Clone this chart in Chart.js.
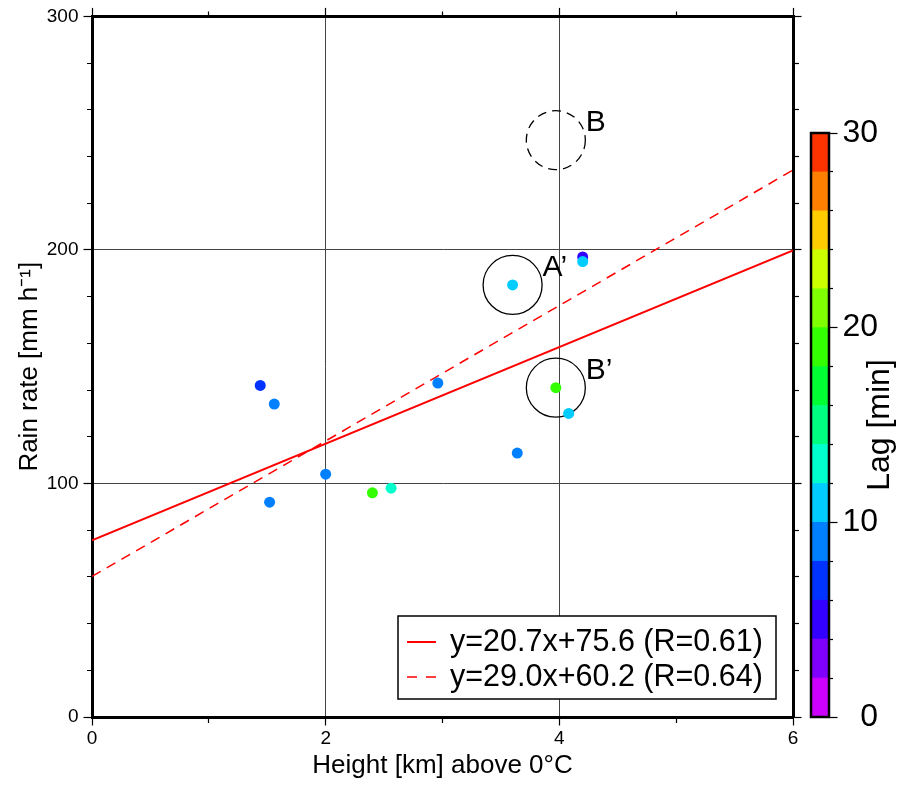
<!DOCTYPE html>
<html>
<head>
<meta charset="utf-8">
<script src="https://cdn.jsdelivr.net/npm/chart.js@4"></script>
<style>
  body { margin: 0; background: #fff; }
  #wrap { position: relative; width: 921px; height: 785px; }
  canvas { position: absolute; top: 0; }
  #main { left: 0; }
  #cbar { left: 800px; }
</style>
</head>
<body>
<div id="wrap">
  <canvas id="main" width="921" height="785"></canvas>
  <canvas id="cbar" width="121" height="785"></canvas>
</div>
<script>
// observations
const heightKm = [1.44, 1.56, 1.52, 2.00, 2.40, 2.56, 2.96, 3.64, 3.60, 3.97, 4.08, 4.20, 4.20];
const rainRate = [142, 134, 92, 104, 96, 98, 143, 113, 185, 141, 130, 197, 195];
const lagMin   = [7, 9, 9, 9, 19, 13, 9, 9, 11, 19, 11, 5, 11];

// colour palette of the lag bar, 2 min per band, from 0 to 30
const lagStep = 2;
const lagBins = ['#cc00ff', '#8000ff', '#3300ff', '#0033ff', '#0080ff', '#00ccff', '#00ffcc', '#00ff80',
                 '#00ff33', '#33ff00', '#80ff00', '#ccff00', '#ffcc00', '#ff8000', '#ff3300'];

// regression lines (end points at x = 0 and x = 6)
const fitX = [0, 6];
const fitSolidY = [75.6, 199.8];
const fitDashedY = [60.2, 234.2];
const fitLabels = ['y=20.7x+75.6 (R=0.61)', 'y=29.0x+60.2 (R=0.64)'];

// marked cases
const circleX = [3.60, 3.97];
const circleY = [185, 141];
const circleText = ['A\u2019', 'B\u2019'];
const dashedCircleX = [3.97];
const dashedCircleY = [247];
const dashedCircleText = ['B'];

const FONT = '"Liberation Sans", Arial, Helvetica, sans-serif';
Chart.defaults.font.family = FONT;
Chart.defaults.color = '#000';

function lagColor(v) {
  return lagBins[Math.min(lagBins.length - 1, Math.floor(v / lagStep))];
}
function toXY(xs, ys) {
  return xs.map((x, i) => ({ x: x, y: ys[i] }));
}

// minor ticks are drawn shorter with a dash pattern
const minorDashIn = [0, 3.5, 4, 40];
const minorDashOut = [4, 40];
function axisGrid(major, outerFirst, onChart) {
  const isMajor = c => c.tick && Math.abs(c.tick.value % major) < 1e-9;
  return {
    drawOnChartArea: onChart,
    color: c => isMajor(c) ? '#444' : 'rgba(0,0,0,0)',
    lineWidth: 1,
    tickColor: '#000',
    tickWidth: 1.2,
    tickLength: 8.5,
    tickBorderDash: c => isMajor(c) ? [] : (outerFirst ? minorDashIn : minorDashOut)
  };
}
const frameBorder = { display: true, width: 3, color: '#000' };

const annotate = {
  id: 'annotate',
  beforeDatasetDraw(chart, args) {
    if (chart.data.datasets[args.index].dashedOutline) chart.ctx.setLineDash([9, 6]);
  },
  afterDatasetDraw(chart) {
    chart.ctx.setLineDash([]);
  },
  afterDatasetsDraw(chart) {
    const ctx = chart.ctx;
    const xs = chart.scales.x, ys = chart.scales.y;
    ctx.save();
    ctx.fillStyle = '#000';
    ctx.font = '30px ' + FONT;
    ctx.textAlign = 'left';
    ctx.textBaseline = 'middle';
    const put = (xv, yv, txt) => xv.forEach((x, i) => {
      ctx.fillText(txt[i], xs.getPixelForValue(x) + 30, ys.getPixelForValue(yv[i]) - 17);
    });
    put(circleX, circleY, circleText);
    put(dashedCircleX, dashedCircleY, dashedCircleText);

    // legend box
    const a = chart.chartArea;
    const bx = a.right - 395, by = a.bottom - 101, bw = 378, bh = 83;
    ctx.fillStyle = '#fff';
    ctx.fillRect(bx, by, bw, bh);
    ctx.lineWidth = 1.5;
    ctx.strokeStyle = '#000';
    ctx.strokeRect(bx, by, bw, bh);
    const rows = [by + 26, by + 61];
    const dashes = [[], [10, 9]];
    const widths = [2, 1.5];
    ctx.font = '30.5px ' + FONT;
    fitLabels.forEach((lab, i) => {
      ctx.strokeStyle = '#ff0000';
      ctx.lineWidth = widths[i];
      ctx.setLineDash(dashes[i]);
      ctx.beginPath();
      ctx.moveTo(bx + 9, rows[i]);
      ctx.lineTo(bx + 38, rows[i]);
      ctx.stroke();
      ctx.setLineDash([]);
      ctx.fillStyle = '#000';
      ctx.fillText(lab, bx + 52, rows[i] + 1);
    });
    ctx.restore();
  }
};

new Chart(document.getElementById('main'), {
  type: 'scatter',
  data: {
    datasets: [
      {
        data: toXY(heightKm, rainRate),
        pointRadius: 5.5,
        pointBorderWidth: 0,
        pointBackgroundColor: lagMin.map(lagColor),
        order: 1
      },
      {
        data: toXY(circleX, circleY),
        pointRadius: 29.5,
        pointBorderWidth: 1.3,
        pointBorderColor: '#000',
        pointBackgroundColor: 'rgba(0,0,0,0)',
        order: 2
      },
      {
        data: toXY(dashedCircleX, dashedCircleY),
        dashedOutline: true,
        pointRadius: 29.5,
        pointBorderWidth: 1.3,
        pointBorderColor: '#000',
        pointBackgroundColor: 'rgba(0,0,0,0)',
        order: 3
      },
      {
        type: 'line',
        data: toXY(fitX, fitSolidY),
        borderColor: '#ff0000',
        borderWidth: 2,
        pointRadius: 0,
        order: 4
      },
      {
        type: 'line',
        data: toXY(fitX, fitDashedY),
        borderColor: '#ff0000',
        borderWidth: 1.5,
        borderDash: [10, 7],
        pointRadius: 0,
        order: 5
      }
    ]
  },
  options: {
    responsive: false,
    animation: false,
    devicePixelRatio: 1,
    layout: { autoPadding: false, padding: { left: 0, top: 0, right: 118, bottom: 0 } },
    plugins: { legend: { display: false }, tooltip: { enabled: false } },
    scales: {
      x: {
        type: 'linear', position: 'bottom', min: 0, max: 6,
        ticks: { stepSize: 1, autoSkip: false, maxRotation: 0, padding: 2, font: { size: 19 },
                 callback: v => v % 2 === 0 ? v : '' },
        grid: axisGrid(2, false, true),
        border: frameBorder,
        title: { display: true, text: 'Height [km] above 0\u00B0C', font: { size: 26 },
                 padding: { top: 0, bottom: 3.5 } },
        afterFit: s => { s.height = 68; }
      },
      x2: {
        type: 'linear', position: 'top', min: 0, max: 6,
        ticks: { stepSize: 1, autoSkip: false, callback: () => '' },
        grid: axisGrid(2, true, false),
        border: frameBorder,
        afterFit: s => { s.height = 16; }
      },
      y: {
        type: 'linear', position: 'left', min: 0, max: 300,
        ticks: { stepSize: 20, autoSkip: false, padding: 5, font: { size: 19 },
                 callback: v => v % 100 === 0 ? v : '' },
        grid: axisGrid(100, true, true),
        border: frameBorder,
        title: { display: true, text: 'Rain rate [mm h\u207B\u00B9]', font: { size: 26 },
                 padding: { top: 14, bottom: 0 } },
        afterFit: s => { s.width = 92; }
      },
      y2: {
        type: 'linear', position: 'right', min: 0, max: 300,
        ticks: { stepSize: 20, autoSkip: false, callback: () => '' },
        grid: axisGrid(100, false, false),
        border: frameBorder,
        afterFit: s => { s.width = 10; }
      }
    }
  },
  plugins: [annotate]
});

// colour bar
const barFrame = {
  id: 'barFrame',
  afterDatasetsDraw(chart) {
    const ctx = chart.ctx, a = chart.chartArea;
    ctx.save();
    ctx.lineWidth = 2.5;
    ctx.strokeStyle = '#000';
    ctx.strokeRect(a.left, a.top, a.right - a.left, a.bottom - a.top);
    ctx.translate(80, (a.top + a.bottom) / 2);
    ctx.rotate(-Math.PI / 2);
    ctx.fillStyle = '#000';
    ctx.font = '32px ' + FONT;
    ctx.textAlign = 'center';
    ctx.textBaseline = 'middle';
    ctx.fillText('Lag [min]', 0, 0);
    ctx.restore();
  }
};

new Chart(document.getElementById('cbar'), {
  type: 'bar',
  data: {
    labels: [''],
    datasets: lagBins.map(c => ({
      data: [lagStep], backgroundColor: c, borderWidth: 0,
      barPercentage: 1, categoryPercentage: 1
    }))
  },
  options: {
    responsive: false,
    animation: false,
    devicePixelRatio: 1,
    layout: { autoPadding: false, padding: { left: 11, top: 133, right: 43, bottom: 68 } },
    plugins: { legend: { display: false }, tooltip: { enabled: false } },
    scales: {
      x: { stacked: true, display: false },
      y: {
        stacked: true, position: 'right', min: 0, max: 30,
        ticks: { stepSize: 2, autoSkip: false, padding: 5, crossAlign: 'far', font: { size: 32 },
                 callback: v => v % 10 === 0 ? v : '' },
        grid: { drawOnChartArea: false, tickLength: 8.5, tickColor: '#000', tickWidth: 1.2,
                tickBorderDash: c => (c.tick && c.tick.value % 10 === 0) ? [] : [4, 40] },
        border: { display: false },
        afterFit: s => { s.width = 49; }
      }
    }
  },
  plugins: [barFrame]
});
</script>
</body>
</html>
